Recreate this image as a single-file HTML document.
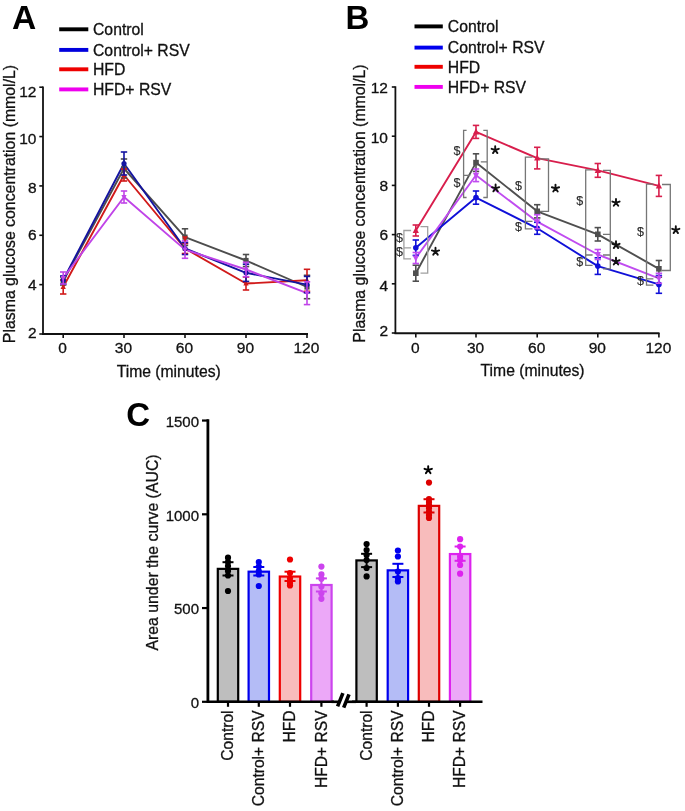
<!DOCTYPE html>
<html><head><meta charset="utf-8"><style>
html,body{margin:0;padding:0;background:#fff;width:685px;height:811px;overflow:hidden}
svg{display:block}
text{font-family:"Liberation Sans", sans-serif}
svg{will-change:transform}
</style></head><body>
<svg width="685" height="811" viewBox="0 0 685 811">
<text x="12.10" y="28.90" font-size="33.6" text-anchor="start" font-weight="bold" fill="#000" stroke="#000" stroke-width="0">A</text>
<line x1="59.20" y1="29.30" x2="88.30" y2="29.30" stroke="#000000" stroke-width="3.9" stroke-linecap="butt"/>
<text x="93.00" y="35.10" font-size="15.75" text-anchor="start" font-weight="normal" fill="#111" stroke="#111" stroke-width="0.3">Control</text>
<line x1="59.20" y1="49.90" x2="88.30" y2="49.90" stroke="#0000dd" stroke-width="3.9" stroke-linecap="butt"/>
<text x="93.00" y="55.70" font-size="15.75" text-anchor="start" font-weight="normal" fill="#111" stroke="#111" stroke-width="0.3">Control+ RSV</text>
<line x1="59.20" y1="69.30" x2="88.30" y2="69.30" stroke="#ee0000" stroke-width="3.9" stroke-linecap="butt"/>
<text x="93.00" y="75.10" font-size="15.75" text-anchor="start" font-weight="normal" fill="#111" stroke="#111" stroke-width="0.3">HFD</text>
<line x1="59.20" y1="89.40" x2="88.30" y2="89.40" stroke="#ee00ee" stroke-width="3.9" stroke-linecap="butt"/>
<text x="93.00" y="95.20" font-size="15.75" text-anchor="start" font-weight="normal" fill="#111" stroke="#111" stroke-width="0.3">HFD+ RSV</text>
<line x1="43.00" y1="86.60" x2="43.00" y2="334.90" stroke="#111" stroke-width="1.8" stroke-linecap="butt"/>
<line x1="42.10" y1="334.00" x2="308.00" y2="334.00" stroke="#111" stroke-width="2.0" stroke-linecap="butt"/>
<line x1="39.30" y1="334.00" x2="43.00" y2="334.00" stroke="#111" stroke-width="1.6" stroke-linecap="butt"/>
<text x="36.50" y="338.00" font-size="15.5" text-anchor="end" font-weight="normal" fill="#111" stroke="#111" stroke-width="0.3">2</text>
<line x1="39.30" y1="284.64" x2="43.00" y2="284.64" stroke="#111" stroke-width="1.6" stroke-linecap="butt"/>
<text x="36.50" y="290.14" font-size="15.5" text-anchor="end" font-weight="normal" fill="#111" stroke="#111" stroke-width="0.3">4</text>
<line x1="39.30" y1="235.28" x2="43.00" y2="235.28" stroke="#111" stroke-width="1.6" stroke-linecap="butt"/>
<text x="36.50" y="239.68" font-size="15.5" text-anchor="end" font-weight="normal" fill="#111" stroke="#111" stroke-width="0.3">6</text>
<line x1="39.30" y1="185.92" x2="43.00" y2="185.92" stroke="#111" stroke-width="1.6" stroke-linecap="butt"/>
<text x="36.50" y="192.62" font-size="15.5" text-anchor="end" font-weight="normal" fill="#111" stroke="#111" stroke-width="0.3">8</text>
<line x1="39.30" y1="136.56" x2="43.00" y2="136.56" stroke="#111" stroke-width="1.6" stroke-linecap="butt"/>
<text x="36.50" y="143.66" font-size="15.5" text-anchor="end" font-weight="normal" fill="#111" stroke="#111" stroke-width="0.3">10</text>
<line x1="39.30" y1="87.20" x2="43.00" y2="87.20" stroke="#111" stroke-width="1.6" stroke-linecap="butt"/>
<text x="36.50" y="96.50" font-size="15.5" text-anchor="end" font-weight="normal" fill="#111" stroke="#111" stroke-width="0.3">12</text>
<line x1="63.20" y1="334.00" x2="63.20" y2="338.00" stroke="#111" stroke-width="1.6" stroke-linecap="butt"/>
<text x="62.60" y="353.10" font-size="15.5" text-anchor="middle" font-weight="normal" fill="#111" stroke="#111" stroke-width="0.3">0</text>
<line x1="124.00" y1="334.00" x2="124.00" y2="338.00" stroke="#111" stroke-width="1.6" stroke-linecap="butt"/>
<text x="123.40" y="353.10" font-size="15.5" text-anchor="middle" font-weight="normal" fill="#111" stroke="#111" stroke-width="0.3">30</text>
<line x1="185.00" y1="334.00" x2="185.00" y2="338.00" stroke="#111" stroke-width="1.6" stroke-linecap="butt"/>
<text x="184.40" y="353.10" font-size="15.5" text-anchor="middle" font-weight="normal" fill="#111" stroke="#111" stroke-width="0.3">60</text>
<line x1="246.00" y1="334.00" x2="246.00" y2="338.00" stroke="#111" stroke-width="1.6" stroke-linecap="butt"/>
<text x="245.40" y="353.10" font-size="15.5" text-anchor="middle" font-weight="normal" fill="#111" stroke="#111" stroke-width="0.3">90</text>
<line x1="307.00" y1="334.00" x2="307.00" y2="338.00" stroke="#111" stroke-width="1.6" stroke-linecap="butt"/>
<text x="306.40" y="353.10" font-size="15.5" text-anchor="middle" font-weight="normal" fill="#111" stroke="#111" stroke-width="0.3">120</text>
<text x="168.70" y="376.60" font-size="15.7" text-anchor="middle" font-weight="normal" fill="#111" stroke="#111" stroke-width="0.3">Time (minutes)</text>
<text x="14.60" y="204.00" font-size="15.85" text-anchor="middle" font-weight="normal" fill="#111" stroke="#111" stroke-width="0.3" transform="rotate(-90 14.6 204.0)">Plasma glucose concentration (mmol/L)</text>
<polyline points="63.20,281.00 124.00,168.50 185.00,237.10 246.00,260.50 307.00,287.00" fill="none" stroke="#4d4d4d" stroke-width="1.9" stroke-linejoin="round"/>
<polyline points="63.20,287.00 124.00,175.00 185.00,248.50 246.00,283.50 307.00,280.30" fill="none" stroke="#d11a1a" stroke-width="1.9" stroke-linejoin="round"/>
<polyline points="63.20,280.00 124.00,163.50 185.00,248.50 246.00,272.80 307.00,284.60" fill="none" stroke="#1414a0" stroke-width="1.9" stroke-linejoin="round"/>
<polyline points="63.20,278.00 124.00,197.00 185.00,249.60 246.00,269.50 307.00,293.20" fill="none" stroke="#c044e8" stroke-width="1.9" stroke-linejoin="round"/>
<line x1="63.20" y1="277.00" x2="63.20" y2="285.00" stroke="#4d4d4d" stroke-width="1.6" stroke-linecap="butt"/>
<line x1="60.00" y1="277.00" x2="66.40" y2="277.00" stroke="#4d4d4d" stroke-width="1.6" stroke-linecap="butt"/>
<line x1="60.00" y1="285.00" x2="66.40" y2="285.00" stroke="#4d4d4d" stroke-width="1.6" stroke-linecap="butt"/>
<rect x="60.60" y="278.40" width="5.20" height="5.20" fill="#4d4d4d"/>
<line x1="124.00" y1="159.00" x2="124.00" y2="178.00" stroke="#4d4d4d" stroke-width="1.6" stroke-linecap="butt"/>
<line x1="120.80" y1="159.00" x2="127.20" y2="159.00" stroke="#4d4d4d" stroke-width="1.6" stroke-linecap="butt"/>
<line x1="120.80" y1="178.00" x2="127.20" y2="178.00" stroke="#4d4d4d" stroke-width="1.6" stroke-linecap="butt"/>
<rect x="121.40" y="165.90" width="5.20" height="5.20" fill="#4d4d4d"/>
<line x1="185.00" y1="228.80" x2="185.00" y2="245.40" stroke="#4d4d4d" stroke-width="1.6" stroke-linecap="butt"/>
<line x1="181.80" y1="228.80" x2="188.20" y2="228.80" stroke="#4d4d4d" stroke-width="1.6" stroke-linecap="butt"/>
<line x1="181.80" y1="245.40" x2="188.20" y2="245.40" stroke="#4d4d4d" stroke-width="1.6" stroke-linecap="butt"/>
<rect x="182.40" y="234.50" width="5.20" height="5.20" fill="#4d4d4d"/>
<line x1="246.00" y1="254.50" x2="246.00" y2="266.50" stroke="#4d4d4d" stroke-width="1.6" stroke-linecap="butt"/>
<line x1="242.80" y1="254.50" x2="249.20" y2="254.50" stroke="#4d4d4d" stroke-width="1.6" stroke-linecap="butt"/>
<line x1="242.80" y1="266.50" x2="249.20" y2="266.50" stroke="#4d4d4d" stroke-width="1.6" stroke-linecap="butt"/>
<rect x="243.40" y="257.90" width="5.20" height="5.20" fill="#4d4d4d"/>
<line x1="307.00" y1="275.30" x2="307.00" y2="298.70" stroke="#4d4d4d" stroke-width="1.6" stroke-linecap="butt"/>
<line x1="303.80" y1="275.30" x2="310.20" y2="275.30" stroke="#4d4d4d" stroke-width="1.6" stroke-linecap="butt"/>
<line x1="303.80" y1="298.70" x2="310.20" y2="298.70" stroke="#4d4d4d" stroke-width="1.6" stroke-linecap="butt"/>
<rect x="304.40" y="284.40" width="5.20" height="5.20" fill="#4d4d4d"/>
<line x1="63.20" y1="280.00" x2="63.20" y2="294.00" stroke="#d11a1a" stroke-width="1.6" stroke-linecap="butt"/>
<line x1="60.00" y1="280.00" x2="66.40" y2="280.00" stroke="#d11a1a" stroke-width="1.6" stroke-linecap="butt"/>
<line x1="60.00" y1="294.00" x2="66.40" y2="294.00" stroke="#d11a1a" stroke-width="1.6" stroke-linecap="butt"/>
<path d="M63.20,283.80L65.80,289.08L60.60,289.08Z" fill="#d11a1a"/>
<line x1="124.00" y1="169.00" x2="124.00" y2="181.00" stroke="#d11a1a" stroke-width="1.6" stroke-linecap="butt"/>
<line x1="120.80" y1="169.00" x2="127.20" y2="169.00" stroke="#d11a1a" stroke-width="1.6" stroke-linecap="butt"/>
<line x1="120.80" y1="181.00" x2="127.20" y2="181.00" stroke="#d11a1a" stroke-width="1.6" stroke-linecap="butt"/>
<path d="M124.00,171.80L126.60,177.08L121.40,177.08Z" fill="#d11a1a"/>
<line x1="185.00" y1="243.50" x2="185.00" y2="253.50" stroke="#d11a1a" stroke-width="1.6" stroke-linecap="butt"/>
<line x1="181.80" y1="243.50" x2="188.20" y2="243.50" stroke="#d11a1a" stroke-width="1.6" stroke-linecap="butt"/>
<line x1="181.80" y1="253.50" x2="188.20" y2="253.50" stroke="#d11a1a" stroke-width="1.6" stroke-linecap="butt"/>
<path d="M185.00,245.30L187.60,250.58L182.40,250.58Z" fill="#d11a1a"/>
<line x1="246.00" y1="277.00" x2="246.00" y2="290.00" stroke="#d11a1a" stroke-width="1.6" stroke-linecap="butt"/>
<line x1="242.80" y1="277.00" x2="249.20" y2="277.00" stroke="#d11a1a" stroke-width="1.6" stroke-linecap="butt"/>
<line x1="242.80" y1="290.00" x2="249.20" y2="290.00" stroke="#d11a1a" stroke-width="1.6" stroke-linecap="butt"/>
<path d="M246.00,280.30L248.60,285.58L243.40,285.58Z" fill="#d11a1a"/>
<line x1="307.00" y1="269.30" x2="307.00" y2="291.30" stroke="#d11a1a" stroke-width="1.6" stroke-linecap="butt"/>
<line x1="303.80" y1="269.30" x2="310.20" y2="269.30" stroke="#d11a1a" stroke-width="1.6" stroke-linecap="butt"/>
<line x1="303.80" y1="291.30" x2="310.20" y2="291.30" stroke="#d11a1a" stroke-width="1.6" stroke-linecap="butt"/>
<path d="M307.00,277.10L309.60,282.38L304.40,282.38Z" fill="#d11a1a"/>
<line x1="63.20" y1="276.00" x2="63.20" y2="284.00" stroke="#1414a0" stroke-width="1.6" stroke-linecap="butt"/>
<line x1="60.00" y1="276.00" x2="66.40" y2="276.00" stroke="#1414a0" stroke-width="1.6" stroke-linecap="butt"/>
<line x1="60.00" y1="284.00" x2="66.40" y2="284.00" stroke="#1414a0" stroke-width="1.6" stroke-linecap="butt"/>
<circle cx="63.20" cy="280.00" r="2.60" fill="#1414a0"/>
<line x1="124.00" y1="152.00" x2="124.00" y2="175.00" stroke="#1414a0" stroke-width="1.6" stroke-linecap="butt"/>
<line x1="120.80" y1="152.00" x2="127.20" y2="152.00" stroke="#1414a0" stroke-width="1.6" stroke-linecap="butt"/>
<line x1="120.80" y1="175.00" x2="127.20" y2="175.00" stroke="#1414a0" stroke-width="1.6" stroke-linecap="butt"/>
<circle cx="124.00" cy="163.50" r="2.60" fill="#1414a0"/>
<line x1="185.00" y1="242.50" x2="185.00" y2="254.50" stroke="#1414a0" stroke-width="1.6" stroke-linecap="butt"/>
<line x1="181.80" y1="242.50" x2="188.20" y2="242.50" stroke="#1414a0" stroke-width="1.6" stroke-linecap="butt"/>
<line x1="181.80" y1="254.50" x2="188.20" y2="254.50" stroke="#1414a0" stroke-width="1.6" stroke-linecap="butt"/>
<circle cx="185.00" cy="248.50" r="2.60" fill="#1414a0"/>
<line x1="246.00" y1="264.20" x2="246.00" y2="281.40" stroke="#1414a0" stroke-width="1.6" stroke-linecap="butt"/>
<line x1="242.80" y1="264.20" x2="249.20" y2="264.20" stroke="#1414a0" stroke-width="1.6" stroke-linecap="butt"/>
<line x1="242.80" y1="281.40" x2="249.20" y2="281.40" stroke="#1414a0" stroke-width="1.6" stroke-linecap="butt"/>
<circle cx="246.00" cy="272.80" r="2.60" fill="#1414a0"/>
<line x1="307.00" y1="276.40" x2="307.00" y2="292.80" stroke="#1414a0" stroke-width="1.6" stroke-linecap="butt"/>
<line x1="303.80" y1="276.40" x2="310.20" y2="276.40" stroke="#1414a0" stroke-width="1.6" stroke-linecap="butt"/>
<line x1="303.80" y1="292.80" x2="310.20" y2="292.80" stroke="#1414a0" stroke-width="1.6" stroke-linecap="butt"/>
<circle cx="307.00" cy="284.60" r="2.60" fill="#1414a0"/>
<line x1="63.20" y1="272.00" x2="63.20" y2="284.00" stroke="#c044e8" stroke-width="1.6" stroke-linecap="butt"/>
<line x1="60.00" y1="272.00" x2="66.40" y2="272.00" stroke="#c044e8" stroke-width="1.6" stroke-linecap="butt"/>
<line x1="60.00" y1="284.00" x2="66.40" y2="284.00" stroke="#c044e8" stroke-width="1.6" stroke-linecap="butt"/>
<path d="M63.20,281.20L65.80,275.92L60.60,275.92Z" fill="#c044e8"/>
<line x1="124.00" y1="191.00" x2="124.00" y2="203.00" stroke="#c044e8" stroke-width="1.6" stroke-linecap="butt"/>
<line x1="120.80" y1="191.00" x2="127.20" y2="191.00" stroke="#c044e8" stroke-width="1.6" stroke-linecap="butt"/>
<line x1="120.80" y1="203.00" x2="127.20" y2="203.00" stroke="#c044e8" stroke-width="1.6" stroke-linecap="butt"/>
<path d="M124.00,200.20L126.60,194.92L121.40,194.92Z" fill="#c044e8"/>
<line x1="185.00" y1="240.90" x2="185.00" y2="258.30" stroke="#c044e8" stroke-width="1.6" stroke-linecap="butt"/>
<line x1="181.80" y1="240.90" x2="188.20" y2="240.90" stroke="#c044e8" stroke-width="1.6" stroke-linecap="butt"/>
<line x1="181.80" y1="258.30" x2="188.20" y2="258.30" stroke="#c044e8" stroke-width="1.6" stroke-linecap="butt"/>
<path d="M185.00,252.80L187.60,247.52L182.40,247.52Z" fill="#c044e8"/>
<line x1="246.00" y1="262.30" x2="246.00" y2="276.70" stroke="#c044e8" stroke-width="1.6" stroke-linecap="butt"/>
<line x1="242.80" y1="262.30" x2="249.20" y2="262.30" stroke="#c044e8" stroke-width="1.6" stroke-linecap="butt"/>
<line x1="242.80" y1="276.70" x2="249.20" y2="276.70" stroke="#c044e8" stroke-width="1.6" stroke-linecap="butt"/>
<path d="M246.00,272.70L248.60,267.42L243.40,267.42Z" fill="#c044e8"/>
<line x1="307.00" y1="281.80" x2="307.00" y2="304.60" stroke="#c044e8" stroke-width="1.6" stroke-linecap="butt"/>
<line x1="303.80" y1="281.80" x2="310.20" y2="281.80" stroke="#c044e8" stroke-width="1.6" stroke-linecap="butt"/>
<line x1="303.80" y1="304.60" x2="310.20" y2="304.60" stroke="#c044e8" stroke-width="1.6" stroke-linecap="butt"/>
<path d="M307.00,296.40L309.60,291.12L304.40,291.12Z" fill="#c044e8"/>
<path d="M185.00,241.90L187.80,236.26L182.20,236.26Z" fill="#d11a1a"/>
<text x="345.60" y="28.90" font-size="33" text-anchor="start" font-weight="bold" fill="#000" stroke="#000" stroke-width="0">B</text>
<line x1="414.50" y1="26.40" x2="442.80" y2="26.40" stroke="#000000" stroke-width="3.9" stroke-linecap="butt"/>
<text x="447.80" y="32.20" font-size="15.75" text-anchor="start" font-weight="normal" fill="#111" stroke="#111" stroke-width="0.3">Control</text>
<line x1="414.50" y1="47.60" x2="442.80" y2="47.60" stroke="#0000ee" stroke-width="3.9" stroke-linecap="butt"/>
<text x="447.80" y="53.40" font-size="15.75" text-anchor="start" font-weight="normal" fill="#111" stroke="#111" stroke-width="0.3">Control+ RSV</text>
<line x1="414.50" y1="66.80" x2="442.80" y2="66.80" stroke="#ee0000" stroke-width="3.9" stroke-linecap="butt"/>
<text x="447.80" y="72.60" font-size="15.75" text-anchor="start" font-weight="normal" fill="#111" stroke="#111" stroke-width="0.3">HFD</text>
<line x1="414.50" y1="86.90" x2="442.80" y2="86.90" stroke="#ee00ee" stroke-width="3.9" stroke-linecap="butt"/>
<text x="447.80" y="92.70" font-size="15.75" text-anchor="start" font-weight="normal" fill="#111" stroke="#111" stroke-width="0.3">HFD+ RSV</text>
<line x1="395.40" y1="86.30" x2="395.40" y2="334.00" stroke="#111" stroke-width="1.8" stroke-linecap="butt"/>
<line x1="394.50" y1="333.20" x2="659.50" y2="333.20" stroke="#111" stroke-width="2.0" stroke-linecap="butt"/>
<line x1="391.80" y1="333.00" x2="395.40" y2="333.00" stroke="#111" stroke-width="1.6" stroke-linecap="butt"/>
<text x="388.00" y="335.90" font-size="15.5" text-anchor="end" font-weight="normal" fill="#111" stroke="#111" stroke-width="0.3">2</text>
<line x1="391.80" y1="283.80" x2="395.40" y2="283.80" stroke="#111" stroke-width="1.6" stroke-linecap="butt"/>
<text x="388.00" y="290.60" font-size="15.5" text-anchor="end" font-weight="normal" fill="#111" stroke="#111" stroke-width="0.3">4</text>
<line x1="391.80" y1="234.60" x2="395.40" y2="234.60" stroke="#111" stroke-width="1.6" stroke-linecap="butt"/>
<text x="388.00" y="239.80" font-size="15.5" text-anchor="end" font-weight="normal" fill="#111" stroke="#111" stroke-width="0.3">6</text>
<line x1="391.80" y1="185.40" x2="395.40" y2="185.40" stroke="#111" stroke-width="1.6" stroke-linecap="butt"/>
<text x="388.00" y="191.30" font-size="15.5" text-anchor="end" font-weight="normal" fill="#111" stroke="#111" stroke-width="0.3">8</text>
<line x1="391.80" y1="136.20" x2="395.40" y2="136.20" stroke="#111" stroke-width="1.6" stroke-linecap="butt"/>
<text x="388.00" y="143.10" font-size="15.5" text-anchor="end" font-weight="normal" fill="#111" stroke="#111" stroke-width="0.3">10</text>
<line x1="391.80" y1="87.00" x2="395.40" y2="87.00" stroke="#111" stroke-width="1.6" stroke-linecap="butt"/>
<text x="388.00" y="93.10" font-size="15.5" text-anchor="end" font-weight="normal" fill="#111" stroke="#111" stroke-width="0.3">12</text>
<line x1="415.80" y1="333.00" x2="415.80" y2="337.50" stroke="#111" stroke-width="1.6" stroke-linecap="butt"/>
<text x="415.30" y="352.60" font-size="15.5" text-anchor="middle" font-weight="normal" fill="#111" stroke="#111" stroke-width="0.3">0</text>
<line x1="476.00" y1="333.00" x2="476.00" y2="337.50" stroke="#111" stroke-width="1.6" stroke-linecap="butt"/>
<text x="475.50" y="352.60" font-size="15.5" text-anchor="middle" font-weight="normal" fill="#111" stroke="#111" stroke-width="0.3">30</text>
<line x1="537.20" y1="333.00" x2="537.20" y2="337.50" stroke="#111" stroke-width="1.6" stroke-linecap="butt"/>
<text x="536.70" y="352.60" font-size="15.5" text-anchor="middle" font-weight="normal" fill="#111" stroke="#111" stroke-width="0.3">60</text>
<line x1="597.80" y1="333.00" x2="597.80" y2="337.50" stroke="#111" stroke-width="1.6" stroke-linecap="butt"/>
<text x="597.30" y="352.60" font-size="15.5" text-anchor="middle" font-weight="normal" fill="#111" stroke="#111" stroke-width="0.3">90</text>
<line x1="658.90" y1="333.00" x2="658.90" y2="337.50" stroke="#111" stroke-width="1.6" stroke-linecap="butt"/>
<text x="658.40" y="352.60" font-size="15.5" text-anchor="middle" font-weight="normal" fill="#111" stroke="#111" stroke-width="0.3">120</text>
<text x="532.60" y="376.10" font-size="15.7" text-anchor="middle" font-weight="normal" fill="#111" stroke="#111" stroke-width="0.3">Time (minutes)</text>
<text x="365.10" y="203.50" font-size="15.85" text-anchor="middle" font-weight="normal" fill="#111" stroke="#111" stroke-width="0.3" transform="rotate(-90 365.1 203.5)">Plasma glucose concentration (mmol/L)</text>
<polyline points="415.80,273.20 476.00,162.60 537.20,211.30 597.80,234.30 658.90,268.80" fill="none" stroke="#4f4f4f" stroke-width="1.9" stroke-linejoin="round"/>
<polyline points="415.80,230.50 476.00,131.90 537.20,158.10 597.80,170.40 658.90,185.90" fill="none" stroke="#d81e4c" stroke-width="1.9" stroke-linejoin="round"/>
<polyline points="415.80,247.70 476.00,197.60 537.20,228.30 597.80,266.10 658.90,284.40" fill="none" stroke="#1010d8" stroke-width="1.9" stroke-linejoin="round"/>
<polyline points="415.80,258.00 476.00,175.30 537.20,221.70 597.80,254.50 658.90,278.30" fill="none" stroke="#c04cf0" stroke-width="1.9" stroke-linejoin="round"/>
<line x1="415.80" y1="265.20" x2="415.80" y2="281.20" stroke="#4f4f4f" stroke-width="1.6" stroke-linecap="butt"/>
<line x1="412.60" y1="265.20" x2="419.00" y2="265.20" stroke="#4f4f4f" stroke-width="1.6" stroke-linecap="butt"/>
<line x1="412.60" y1="281.20" x2="419.00" y2="281.20" stroke="#4f4f4f" stroke-width="1.6" stroke-linecap="butt"/>
<rect x="413.00" y="270.40" width="5.60" height="5.60" fill="#4f4f4f"/>
<line x1="476.00" y1="153.80" x2="476.00" y2="171.40" stroke="#4f4f4f" stroke-width="1.6" stroke-linecap="butt"/>
<line x1="472.80" y1="153.80" x2="479.20" y2="153.80" stroke="#4f4f4f" stroke-width="1.6" stroke-linecap="butt"/>
<line x1="472.80" y1="171.40" x2="479.20" y2="171.40" stroke="#4f4f4f" stroke-width="1.6" stroke-linecap="butt"/>
<rect x="473.20" y="159.80" width="5.60" height="5.60" fill="#4f4f4f"/>
<line x1="537.20" y1="204.70" x2="537.20" y2="217.90" stroke="#4f4f4f" stroke-width="1.6" stroke-linecap="butt"/>
<line x1="534.00" y1="204.70" x2="540.40" y2="204.70" stroke="#4f4f4f" stroke-width="1.6" stroke-linecap="butt"/>
<line x1="534.00" y1="217.90" x2="540.40" y2="217.90" stroke="#4f4f4f" stroke-width="1.6" stroke-linecap="butt"/>
<rect x="534.40" y="208.50" width="5.60" height="5.60" fill="#4f4f4f"/>
<line x1="597.80" y1="227.60" x2="597.80" y2="241.00" stroke="#4f4f4f" stroke-width="1.6" stroke-linecap="butt"/>
<line x1="594.60" y1="227.60" x2="601.00" y2="227.60" stroke="#4f4f4f" stroke-width="1.6" stroke-linecap="butt"/>
<line x1="594.60" y1="241.00" x2="601.00" y2="241.00" stroke="#4f4f4f" stroke-width="1.6" stroke-linecap="butt"/>
<rect x="595.00" y="231.50" width="5.60" height="5.60" fill="#4f4f4f"/>
<line x1="658.90" y1="260.50" x2="658.90" y2="277.10" stroke="#4f4f4f" stroke-width="1.6" stroke-linecap="butt"/>
<line x1="655.70" y1="260.50" x2="662.10" y2="260.50" stroke="#4f4f4f" stroke-width="1.6" stroke-linecap="butt"/>
<line x1="655.70" y1="277.10" x2="662.10" y2="277.10" stroke="#4f4f4f" stroke-width="1.6" stroke-linecap="butt"/>
<rect x="656.10" y="266.00" width="5.60" height="5.60" fill="#4f4f4f"/>
<line x1="415.80" y1="225.00" x2="415.80" y2="236.00" stroke="#d81e4c" stroke-width="1.6" stroke-linecap="butt"/>
<line x1="412.60" y1="225.00" x2="419.00" y2="225.00" stroke="#d81e4c" stroke-width="1.6" stroke-linecap="butt"/>
<line x1="412.60" y1="236.00" x2="419.00" y2="236.00" stroke="#d81e4c" stroke-width="1.6" stroke-linecap="butt"/>
<path d="M415.80,226.80L418.90,232.98L412.70,232.98Z" fill="#d81e4c"/>
<line x1="476.00" y1="125.40" x2="476.00" y2="138.40" stroke="#d81e4c" stroke-width="1.6" stroke-linecap="butt"/>
<line x1="472.80" y1="125.40" x2="479.20" y2="125.40" stroke="#d81e4c" stroke-width="1.6" stroke-linecap="butt"/>
<line x1="472.80" y1="138.40" x2="479.20" y2="138.40" stroke="#d81e4c" stroke-width="1.6" stroke-linecap="butt"/>
<path d="M476.00,128.20L479.10,134.38L472.90,134.38Z" fill="#d81e4c"/>
<line x1="537.20" y1="147.30" x2="537.20" y2="168.90" stroke="#d81e4c" stroke-width="1.6" stroke-linecap="butt"/>
<line x1="534.00" y1="147.30" x2="540.40" y2="147.30" stroke="#d81e4c" stroke-width="1.6" stroke-linecap="butt"/>
<line x1="534.00" y1="168.90" x2="540.40" y2="168.90" stroke="#d81e4c" stroke-width="1.6" stroke-linecap="butt"/>
<path d="M537.20,154.40L540.30,160.58L534.10,160.58Z" fill="#d81e4c"/>
<line x1="597.80" y1="163.50" x2="597.80" y2="177.30" stroke="#d81e4c" stroke-width="1.6" stroke-linecap="butt"/>
<line x1="594.60" y1="163.50" x2="601.00" y2="163.50" stroke="#d81e4c" stroke-width="1.6" stroke-linecap="butt"/>
<line x1="594.60" y1="177.30" x2="601.00" y2="177.30" stroke="#d81e4c" stroke-width="1.6" stroke-linecap="butt"/>
<path d="M597.80,166.70L600.90,172.88L594.70,172.88Z" fill="#d81e4c"/>
<line x1="658.90" y1="175.40" x2="658.90" y2="196.40" stroke="#d81e4c" stroke-width="1.6" stroke-linecap="butt"/>
<line x1="655.70" y1="175.40" x2="662.10" y2="175.40" stroke="#d81e4c" stroke-width="1.6" stroke-linecap="butt"/>
<line x1="655.70" y1="196.40" x2="662.10" y2="196.40" stroke="#d81e4c" stroke-width="1.6" stroke-linecap="butt"/>
<path d="M658.90,182.20L662.00,188.38L655.80,188.38Z" fill="#d81e4c"/>
<line x1="415.80" y1="240.00" x2="415.80" y2="255.40" stroke="#1010d8" stroke-width="1.6" stroke-linecap="butt"/>
<line x1="412.60" y1="240.00" x2="419.00" y2="240.00" stroke="#1010d8" stroke-width="1.6" stroke-linecap="butt"/>
<line x1="412.60" y1="255.40" x2="419.00" y2="255.40" stroke="#1010d8" stroke-width="1.6" stroke-linecap="butt"/>
<circle cx="415.80" cy="247.70" r="2.80" fill="#1010d8"/>
<line x1="476.00" y1="191.00" x2="476.00" y2="204.20" stroke="#1010d8" stroke-width="1.6" stroke-linecap="butt"/>
<line x1="472.80" y1="191.00" x2="479.20" y2="191.00" stroke="#1010d8" stroke-width="1.6" stroke-linecap="butt"/>
<line x1="472.80" y1="204.20" x2="479.20" y2="204.20" stroke="#1010d8" stroke-width="1.6" stroke-linecap="butt"/>
<circle cx="476.00" cy="197.60" r="2.80" fill="#1010d8"/>
<line x1="537.20" y1="222.30" x2="537.20" y2="234.30" stroke="#1010d8" stroke-width="1.6" stroke-linecap="butt"/>
<line x1="534.00" y1="222.30" x2="540.40" y2="222.30" stroke="#1010d8" stroke-width="1.6" stroke-linecap="butt"/>
<line x1="534.00" y1="234.30" x2="540.40" y2="234.30" stroke="#1010d8" stroke-width="1.6" stroke-linecap="butt"/>
<circle cx="537.20" cy="228.30" r="2.80" fill="#1010d8"/>
<line x1="597.80" y1="257.80" x2="597.80" y2="274.40" stroke="#1010d8" stroke-width="1.6" stroke-linecap="butt"/>
<line x1="594.60" y1="257.80" x2="601.00" y2="257.80" stroke="#1010d8" stroke-width="1.6" stroke-linecap="butt"/>
<line x1="594.60" y1="274.40" x2="601.00" y2="274.40" stroke="#1010d8" stroke-width="1.6" stroke-linecap="butt"/>
<circle cx="597.80" cy="266.10" r="2.80" fill="#1010d8"/>
<line x1="658.90" y1="275.50" x2="658.90" y2="293.30" stroke="#1010d8" stroke-width="1.6" stroke-linecap="butt"/>
<line x1="655.70" y1="275.50" x2="662.10" y2="275.50" stroke="#1010d8" stroke-width="1.6" stroke-linecap="butt"/>
<line x1="655.70" y1="293.30" x2="662.10" y2="293.30" stroke="#1010d8" stroke-width="1.6" stroke-linecap="butt"/>
<circle cx="658.90" cy="284.40" r="2.80" fill="#1010d8"/>
<line x1="415.80" y1="252.50" x2="415.80" y2="263.50" stroke="#c04cf0" stroke-width="1.6" stroke-linecap="butt"/>
<line x1="412.60" y1="252.50" x2="419.00" y2="252.50" stroke="#c04cf0" stroke-width="1.6" stroke-linecap="butt"/>
<line x1="412.60" y1="263.50" x2="419.00" y2="263.50" stroke="#c04cf0" stroke-width="1.6" stroke-linecap="butt"/>
<path d="M415.80,261.70L418.90,255.52L412.70,255.52Z" fill="#c04cf0"/>
<line x1="476.00" y1="169.00" x2="476.00" y2="181.60" stroke="#c04cf0" stroke-width="1.6" stroke-linecap="butt"/>
<line x1="472.80" y1="169.00" x2="479.20" y2="169.00" stroke="#c04cf0" stroke-width="1.6" stroke-linecap="butt"/>
<line x1="472.80" y1="181.60" x2="479.20" y2="181.60" stroke="#c04cf0" stroke-width="1.6" stroke-linecap="butt"/>
<path d="M476.00,179.00L479.10,172.82L472.90,172.82Z" fill="#c04cf0"/>
<line x1="537.20" y1="214.70" x2="537.20" y2="228.70" stroke="#c04cf0" stroke-width="1.6" stroke-linecap="butt"/>
<line x1="534.00" y1="214.70" x2="540.40" y2="214.70" stroke="#c04cf0" stroke-width="1.6" stroke-linecap="butt"/>
<line x1="534.00" y1="228.70" x2="540.40" y2="228.70" stroke="#c04cf0" stroke-width="1.6" stroke-linecap="butt"/>
<path d="M537.20,225.40L540.30,219.22L534.10,219.22Z" fill="#c04cf0"/>
<line x1="597.80" y1="249.50" x2="597.80" y2="259.50" stroke="#c04cf0" stroke-width="1.6" stroke-linecap="butt"/>
<line x1="594.60" y1="249.50" x2="601.00" y2="249.50" stroke="#c04cf0" stroke-width="1.6" stroke-linecap="butt"/>
<line x1="594.60" y1="259.50" x2="601.00" y2="259.50" stroke="#c04cf0" stroke-width="1.6" stroke-linecap="butt"/>
<path d="M597.80,258.20L600.90,252.02L594.70,252.02Z" fill="#c04cf0"/>
<line x1="658.90" y1="273.30" x2="658.90" y2="283.30" stroke="#c04cf0" stroke-width="1.6" stroke-linecap="butt"/>
<line x1="655.70" y1="273.30" x2="662.10" y2="273.30" stroke="#c04cf0" stroke-width="1.6" stroke-linecap="butt"/>
<line x1="655.70" y1="283.30" x2="662.10" y2="283.30" stroke="#c04cf0" stroke-width="1.6" stroke-linecap="butt"/>
<path d="M658.90,282.00L662.00,275.82L655.80,275.82Z" fill="#c04cf0"/>
<path d="M411.10,230.50H403.90V258.80H411.10M403.90,247.90H411.10" stroke="#a0a0a0" stroke-width="1.3" fill="none" stroke-linejoin="miter"/>
<path d="M420.50,226.60H427.70V273.20H420.50" stroke="#a0a0a0" stroke-width="1.3" fill="none" stroke-linejoin="miter"/>
<path d="M466.60,130.40H463.60V197.50H466.60M463.60,175.40H470.30" stroke="#767676" stroke-width="1.3" fill="none" stroke-linejoin="miter"/>
<path d="M483.30,130.40H487.20V197.50H483.30M487.20,161.80H480.80" stroke="#767676" stroke-width="1.3" fill="none" stroke-linejoin="miter"/>
<path d="M532.50,157.10H525.40V228.80H532.50M525.40,221.40H532.50" stroke="#767676" stroke-width="1.3" fill="none" stroke-linejoin="miter"/>
<path d="M540.00,158.80H548.50V211.30H540.00" stroke="#767676" stroke-width="1.3" fill="none" stroke-linejoin="miter"/>
<path d="M592.60,169.90H585.70V265.40H592.60M585.70,255.00H592.60" stroke="#767676" stroke-width="1.3" fill="none" stroke-linejoin="miter"/>
<path d="M603.00,170.40H610.30V268.80H603.00M610.30,234.30H603.00M610.30,255.00H603.00" stroke="#767676" stroke-width="1.3" fill="none" stroke-linejoin="miter"/>
<path d="M653.40,184.20H646.50V285.20H653.40M646.50,278.80H653.40" stroke="#767676" stroke-width="1.3" fill="none" stroke-linejoin="miter"/>
<path d="M662.00,184.50H670.30V270.50H662.00" stroke="#767676" stroke-width="1.3" fill="none" stroke-linejoin="miter"/>
<text x="399.40" y="242.40" font-size="12.5" text-anchor="middle" font-weight="normal" fill="#2a2a2a" stroke="#2a2a2a" stroke-width="0.15">$</text>
<text x="399.40" y="255.90" font-size="12.5" text-anchor="middle" font-weight="normal" fill="#2a2a2a" stroke="#2a2a2a" stroke-width="0.15">$</text>
<text x="457.00" y="155.10" font-size="12.5" text-anchor="middle" font-weight="normal" fill="#2a2a2a" stroke="#2a2a2a" stroke-width="0.15">$</text>
<text x="457.00" y="187.20" font-size="12.5" text-anchor="middle" font-weight="normal" fill="#2a2a2a" stroke="#2a2a2a" stroke-width="0.15">$</text>
<text x="518.50" y="189.90" font-size="12.5" text-anchor="middle" font-weight="normal" fill="#2a2a2a" stroke="#2a2a2a" stroke-width="0.15">$</text>
<text x="518.50" y="230.50" font-size="12.5" text-anchor="middle" font-weight="normal" fill="#2a2a2a" stroke="#2a2a2a" stroke-width="0.15">$</text>
<text x="579.80" y="205.40" font-size="12.5" text-anchor="middle" font-weight="normal" fill="#2a2a2a" stroke="#2a2a2a" stroke-width="0.15">$</text>
<text x="579.80" y="265.80" font-size="12.5" text-anchor="middle" font-weight="normal" fill="#2a2a2a" stroke="#2a2a2a" stroke-width="0.15">$</text>
<text x="640.40" y="236.10" font-size="12.5" text-anchor="middle" font-weight="normal" fill="#2a2a2a" stroke="#2a2a2a" stroke-width="0.15">$</text>
<text x="640.40" y="285.40" font-size="12.5" text-anchor="middle" font-weight="normal" fill="#2a2a2a" stroke="#2a2a2a" stroke-width="0.15">$</text>
<path d="M435.50,251.60L435.50,247.80M435.50,251.60L439.11,250.43M435.50,251.60L437.73,254.67M435.50,251.60L433.27,254.67M435.50,251.60L431.89,250.43" stroke="#111" stroke-width="1.9" stroke-linecap="round" fill="none"/>
<path d="M495.20,150.00L495.20,146.20M495.20,150.00L498.81,148.83M495.20,150.00L497.43,153.07M495.20,150.00L492.97,153.07M495.20,150.00L491.59,148.83" stroke="#111" stroke-width="1.9" stroke-linecap="round" fill="none"/>
<path d="M495.60,188.30L495.60,184.50M495.60,188.30L499.21,187.13M495.60,188.30L497.83,191.37M495.60,188.30L493.37,191.37M495.60,188.30L491.99,187.13" stroke="#111" stroke-width="1.9" stroke-linecap="round" fill="none"/>
<path d="M555.50,188.40L555.50,184.60M555.50,188.40L559.11,187.23M555.50,188.40L557.73,191.47M555.50,188.40L553.27,191.47M555.50,188.40L551.89,187.23" stroke="#111" stroke-width="1.9" stroke-linecap="round" fill="none"/>
<path d="M616.00,202.70L616.00,198.90M616.00,202.70L619.61,201.53M616.00,202.70L618.23,205.77M616.00,202.70L613.77,205.77M616.00,202.70L612.39,201.53" stroke="#111" stroke-width="1.9" stroke-linecap="round" fill="none"/>
<path d="M616.00,245.00L616.00,241.20M616.00,245.00L619.61,243.83M616.00,245.00L618.23,248.07M616.00,245.00L613.77,248.07M616.00,245.00L612.39,243.83" stroke="#111" stroke-width="1.9" stroke-linecap="round" fill="none"/>
<path d="M616.00,261.40L616.00,257.60M616.00,261.40L619.61,260.23M616.00,261.40L618.23,264.47M616.00,261.40L613.77,264.47M616.00,261.40L612.39,260.23" stroke="#111" stroke-width="1.9" stroke-linecap="round" fill="none"/>
<path d="M675.80,230.00L675.80,226.20M675.80,230.00L679.41,228.83M675.80,230.00L678.03,233.07M675.80,230.00L673.57,233.07M675.80,230.00L672.19,228.83" stroke="#111" stroke-width="1.9" stroke-linecap="round" fill="none"/>
<text x="126.20" y="426.20" font-size="33" text-anchor="start" font-weight="bold" fill="#000" stroke="#000" stroke-width="0">C</text>
<line x1="202.00" y1="701.80" x2="208.20" y2="701.80" stroke="#000" stroke-width="2.2" stroke-linecap="butt"/>
<text x="199.00" y="708.00" font-size="15.0" text-anchor="end" font-weight="normal" fill="#111" stroke="#111" stroke-width="0.3">0</text>
<line x1="202.00" y1="608.05" x2="208.20" y2="608.05" stroke="#000" stroke-width="2.2" stroke-linecap="butt"/>
<text x="199.00" y="614.25" font-size="15.0" text-anchor="end" font-weight="normal" fill="#111" stroke="#111" stroke-width="0.3">500</text>
<line x1="202.00" y1="514.30" x2="208.20" y2="514.30" stroke="#000" stroke-width="2.2" stroke-linecap="butt"/>
<text x="199.00" y="520.50" font-size="15.0" text-anchor="end" font-weight="normal" fill="#111" stroke="#111" stroke-width="0.3">1000</text>
<line x1="202.00" y1="420.55" x2="208.20" y2="420.55" stroke="#000" stroke-width="2.2" stroke-linecap="butt"/>
<text x="199.00" y="426.75" font-size="15.0" text-anchor="end" font-weight="normal" fill="#111" stroke="#111" stroke-width="0.3">1500</text>
<text x="157.80" y="552.50" font-size="15.84" text-anchor="middle" font-weight="normal" fill="#111" stroke="#111" stroke-width="0.3" transform="rotate(-90 157.8 552.5)">Area under the curve (AUC)</text>
<rect x="217.80" y="568.86" width="20.4" height="132.94" fill="#bebebe" stroke="#000000" stroke-width="2.2"/>
<rect x="248.60" y="571.67" width="20.4" height="130.12" fill="#b4bcf6" stroke="#0000ee" stroke-width="2.2"/>
<rect x="279.80" y="576.55" width="20.4" height="125.25" fill="#f8bcbc" stroke="#ee0000" stroke-width="2.2"/>
<rect x="311.20" y="584.99" width="20.4" height="116.81" fill="#eca8f8" stroke="#cc44ee" stroke-width="2.2"/>
<rect x="356.40" y="560.42" width="20.4" height="141.38" fill="#bebebe" stroke="#000000" stroke-width="2.2"/>
<rect x="387.70" y="570.36" width="20.4" height="131.44" fill="#b4bcf6" stroke="#0000ee" stroke-width="2.2"/>
<rect x="418.80" y="505.86" width="20.4" height="195.94" fill="#f8bcbc" stroke="#dd0000" stroke-width="2.2"/>
<rect x="449.90" y="554.05" width="20.4" height="147.75" fill="#eca8f8" stroke="#dd22ee" stroke-width="2.2"/>
<circle cx="228.00" cy="557.70" r="3.1" fill="#000"/>
<circle cx="228.00" cy="562.00" r="3.1" fill="#000"/>
<circle cx="228.00" cy="566.00" r="3.1" fill="#000"/>
<circle cx="228.00" cy="571.00" r="3.1" fill="#000"/>
<circle cx="228.00" cy="575.50" r="3.1" fill="#000"/>
<circle cx="228.00" cy="591.00" r="3.1" fill="#000"/>
<line x1="228.00" y1="562.20" x2="228.00" y2="575.50" stroke="#000" stroke-width="2.0" stroke-linecap="butt"/>
<line x1="222.50" y1="562.20" x2="233.50" y2="562.20" stroke="#000" stroke-width="2.0" stroke-linecap="butt"/>
<line x1="222.50" y1="575.50" x2="233.50" y2="575.50" stroke="#000" stroke-width="2.0" stroke-linecap="butt"/>
<circle cx="258.80" cy="562.00" r="3.1" fill="#0000ee"/>
<circle cx="258.80" cy="566.50" r="3.1" fill="#0000ee"/>
<circle cx="258.80" cy="571.00" r="3.1" fill="#0000ee"/>
<circle cx="258.80" cy="574.50" r="3.1" fill="#0000ee"/>
<circle cx="258.80" cy="586.00" r="3.1" fill="#0000ee"/>
<line x1="258.80" y1="567.00" x2="258.80" y2="575.50" stroke="#0000ee" stroke-width="2.0" stroke-linecap="butt"/>
<line x1="253.30" y1="567.00" x2="264.30" y2="567.00" stroke="#0000ee" stroke-width="2.0" stroke-linecap="butt"/>
<line x1="253.30" y1="575.50" x2="264.30" y2="575.50" stroke="#0000ee" stroke-width="2.0" stroke-linecap="butt"/>
<circle cx="290.00" cy="559.50" r="3.1" fill="#ee0000"/>
<circle cx="290.00" cy="573.00" r="3.1" fill="#ee0000"/>
<circle cx="290.00" cy="578.50" r="3.1" fill="#ee0000"/>
<circle cx="290.00" cy="583.00" r="3.1" fill="#ee0000"/>
<circle cx="290.00" cy="585.50" r="3.1" fill="#ee0000"/>
<line x1="290.00" y1="571.70" x2="290.00" y2="581.00" stroke="#ee0000" stroke-width="2.0" stroke-linecap="butt"/>
<line x1="284.50" y1="571.70" x2="295.50" y2="571.70" stroke="#ee0000" stroke-width="2.0" stroke-linecap="butt"/>
<line x1="284.50" y1="581.00" x2="295.50" y2="581.00" stroke="#ee0000" stroke-width="2.0" stroke-linecap="butt"/>
<circle cx="321.40" cy="566.60" r="3.1" fill="#cc44ee"/>
<circle cx="321.40" cy="574.40" r="3.1" fill="#cc44ee"/>
<circle cx="321.40" cy="578.80" r="3.1" fill="#cc44ee"/>
<circle cx="321.40" cy="586.60" r="3.1" fill="#cc44ee"/>
<circle cx="321.40" cy="593.30" r="3.1" fill="#cc44ee"/>
<circle cx="321.40" cy="598.80" r="3.1" fill="#cc44ee"/>
<line x1="321.40" y1="578.40" x2="321.40" y2="591.50" stroke="#cc44ee" stroke-width="2.0" stroke-linecap="butt"/>
<line x1="315.90" y1="578.40" x2="326.90" y2="578.40" stroke="#cc44ee" stroke-width="2.0" stroke-linecap="butt"/>
<line x1="315.90" y1="591.50" x2="326.90" y2="591.50" stroke="#cc44ee" stroke-width="2.0" stroke-linecap="butt"/>
<circle cx="366.60" cy="544.00" r="3.1" fill="#000"/>
<circle cx="366.60" cy="550.00" r="3.1" fill="#000"/>
<circle cx="366.60" cy="555.00" r="3.1" fill="#000"/>
<circle cx="366.60" cy="560.00" r="3.1" fill="#000"/>
<circle cx="366.60" cy="568.00" r="3.1" fill="#000"/>
<circle cx="366.60" cy="576.40" r="3.1" fill="#000"/>
<line x1="366.60" y1="553.80" x2="366.60" y2="567.10" stroke="#000" stroke-width="2.0" stroke-linecap="butt"/>
<line x1="361.10" y1="553.80" x2="372.10" y2="553.80" stroke="#000" stroke-width="2.0" stroke-linecap="butt"/>
<line x1="361.10" y1="567.10" x2="372.10" y2="567.10" stroke="#000" stroke-width="2.0" stroke-linecap="butt"/>
<circle cx="397.90" cy="550.50" r="3.1" fill="#0000ee"/>
<circle cx="397.90" cy="556.50" r="3.1" fill="#0000ee"/>
<circle cx="397.90" cy="571.50" r="3.1" fill="#0000ee"/>
<circle cx="397.90" cy="578.00" r="3.1" fill="#0000ee"/>
<circle cx="397.90" cy="581.40" r="3.1" fill="#0000ee"/>
<line x1="397.90" y1="563.80" x2="397.90" y2="577.00" stroke="#0000ee" stroke-width="2.0" stroke-linecap="butt"/>
<line x1="392.40" y1="563.80" x2="403.40" y2="563.80" stroke="#0000ee" stroke-width="2.0" stroke-linecap="butt"/>
<line x1="392.40" y1="577.00" x2="403.40" y2="577.00" stroke="#0000ee" stroke-width="2.0" stroke-linecap="butt"/>
<circle cx="429.00" cy="482.60" r="3.1" fill="#dd0000"/>
<circle cx="429.00" cy="499.00" r="3.1" fill="#dd0000"/>
<circle cx="429.00" cy="502.00" r="3.1" fill="#dd0000"/>
<circle cx="429.00" cy="505.00" r="3.1" fill="#dd0000"/>
<circle cx="429.00" cy="508.00" r="3.1" fill="#dd0000"/>
<circle cx="429.00" cy="511.50" r="3.1" fill="#dd0000"/>
<circle cx="429.00" cy="515.00" r="3.1" fill="#dd0000"/>
<circle cx="429.00" cy="518.00" r="3.1" fill="#dd0000"/>
<line x1="429.00" y1="499.20" x2="429.00" y2="512.50" stroke="#dd0000" stroke-width="2.0" stroke-linecap="butt"/>
<line x1="423.50" y1="499.20" x2="434.50" y2="499.20" stroke="#dd0000" stroke-width="2.0" stroke-linecap="butt"/>
<line x1="423.50" y1="512.50" x2="434.50" y2="512.50" stroke="#dd0000" stroke-width="2.0" stroke-linecap="butt"/>
<circle cx="460.10" cy="539.20" r="3.1" fill="#dd22ee"/>
<circle cx="460.10" cy="546.50" r="3.1" fill="#dd22ee"/>
<circle cx="460.10" cy="556.50" r="3.1" fill="#dd22ee"/>
<circle cx="460.10" cy="560.00" r="3.1" fill="#dd22ee"/>
<circle cx="460.10" cy="565.00" r="3.1" fill="#dd22ee"/>
<circle cx="460.10" cy="573.70" r="3.1" fill="#dd22ee"/>
<line x1="460.10" y1="546.50" x2="460.10" y2="560.80" stroke="#dd22ee" stroke-width="2.0" stroke-linecap="butt"/>
<line x1="454.60" y1="546.50" x2="465.60" y2="546.50" stroke="#dd22ee" stroke-width="2.0" stroke-linecap="butt"/>
<line x1="454.60" y1="560.80" x2="465.60" y2="560.80" stroke="#dd22ee" stroke-width="2.0" stroke-linecap="butt"/>
<line x1="228.00" y1="701.80" x2="228.00" y2="706.80" stroke="#000" stroke-width="2.2" stroke-linecap="butt"/>
<line x1="258.80" y1="701.80" x2="258.80" y2="706.80" stroke="#000" stroke-width="2.2" stroke-linecap="butt"/>
<line x1="290.00" y1="701.80" x2="290.00" y2="706.80" stroke="#000" stroke-width="2.2" stroke-linecap="butt"/>
<line x1="321.40" y1="701.80" x2="321.40" y2="706.80" stroke="#000" stroke-width="2.2" stroke-linecap="butt"/>
<line x1="366.60" y1="701.80" x2="366.60" y2="706.80" stroke="#000" stroke-width="2.2" stroke-linecap="butt"/>
<line x1="397.90" y1="701.80" x2="397.90" y2="706.80" stroke="#000" stroke-width="2.2" stroke-linecap="butt"/>
<line x1="429.00" y1="701.80" x2="429.00" y2="706.80" stroke="#000" stroke-width="2.2" stroke-linecap="butt"/>
<line x1="460.10" y1="701.80" x2="460.10" y2="706.80" stroke="#000" stroke-width="2.2" stroke-linecap="butt"/>
<line x1="207.90" y1="419.30" x2="207.90" y2="703.00" stroke="#000" stroke-width="2.8" stroke-linecap="butt"/>
<line x1="207.00" y1="701.80" x2="482.50" y2="701.80" stroke="#000" stroke-width="2.6" stroke-linecap="butt"/>
<line x1="334" y1="701.8" x2="352" y2="701.8" stroke="#fff" stroke-width="4"/>
<line x1="331.50" y1="701.80" x2="340.00" y2="701.80" stroke="#000" stroke-width="2.6" stroke-linecap="butt"/>
<line x1="346.00" y1="701.80" x2="356.00" y2="701.80" stroke="#000" stroke-width="2.6" stroke-linecap="butt"/>
<path d="M337.6,706.3L342.9,693.1M343.7,707.6L349.0,694.4" stroke="#000" stroke-width="3.6" fill="none"/>
<path d="M428.20,470.00L428.20,466.10M428.20,470.00L431.91,468.79M428.20,470.00L430.49,473.16M428.20,470.00L425.91,473.16M428.20,470.00L424.49,468.79" stroke="#000" stroke-width="1.9" stroke-linecap="round" fill="none"/>
<text x="233.20" y="710.40" font-size="15.6" text-anchor="end" font-weight="normal" fill="#111" stroke="#111" stroke-width="0.3" transform="rotate(-90 233.2 710.4)">Control</text>
<text x="264.00" y="710.40" font-size="15.6" text-anchor="end" font-weight="normal" fill="#111" stroke="#111" stroke-width="0.3" transform="rotate(-90 264.0 710.4)">Control+ RSV</text>
<text x="295.20" y="710.40" font-size="15.6" text-anchor="end" font-weight="normal" fill="#111" stroke="#111" stroke-width="0.3" transform="rotate(-90 295.2 710.4)">HFD</text>
<text x="326.60" y="710.40" font-size="15.6" text-anchor="end" font-weight="normal" fill="#111" stroke="#111" stroke-width="0.3" transform="rotate(-90 326.59999999999997 710.4)">HFD+ RSV</text>
<text x="371.80" y="710.40" font-size="15.6" text-anchor="end" font-weight="normal" fill="#111" stroke="#111" stroke-width="0.3" transform="rotate(-90 371.8 710.4)">Control</text>
<text x="403.10" y="710.40" font-size="15.6" text-anchor="end" font-weight="normal" fill="#111" stroke="#111" stroke-width="0.3" transform="rotate(-90 403.09999999999997 710.4)">Control+ RSV</text>
<text x="434.20" y="710.40" font-size="15.6" text-anchor="end" font-weight="normal" fill="#111" stroke="#111" stroke-width="0.3" transform="rotate(-90 434.2 710.4)">HFD</text>
<text x="465.30" y="710.40" font-size="15.6" text-anchor="end" font-weight="normal" fill="#111" stroke="#111" stroke-width="0.3" transform="rotate(-90 465.3 710.4)">HFD+ RSV</text>
</svg>
</body></html>
